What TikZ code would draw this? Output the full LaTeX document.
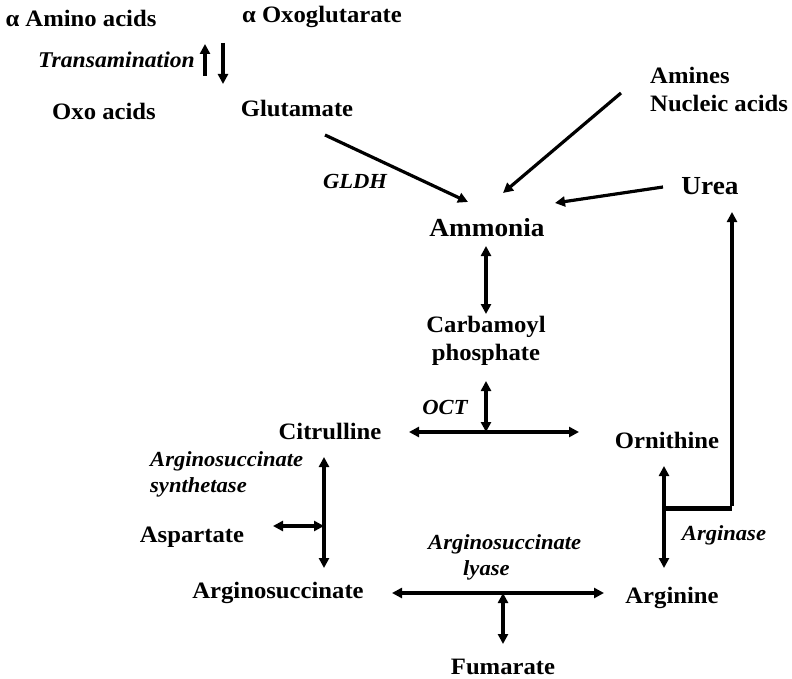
\documentclass[tikz,border=0pt]{standalone}
\usepackage{fontspec}
\setmainfont[FakeStretch=1.05]{Liberation Serif}
\usetikzlibrary{arrows.meta}
\tikzset{
  lbl/.style={font=\fontsize{23.5}{28}\selectfont\bfseries, inner sep=0pt},
  biglbl/.style={font=\fontsize{26}{30}\selectfont\bfseries, inner sep=0pt},
  enz/.style={font=\fontsize{21.5}{26}\selectfont\bfseries\itshape, inner sep=0pt},
  conn/.style={line width=3.2pt, -{Triangle[length=10pt,width=10pt]}},
  both/.style={line width=3.2pt, {Triangle[length=10pt,width=10pt]}-{Triangle[length=10pt,width=10pt]}},
}
\begin{document}
\begin{tikzpicture}[x=1pt,y=-1pt]
\useasboundingbox (0,0) rectangle (792,679);
% text nodes
\node[lbl] (aa) at (81,18) {α Amino acids};
\node[lbl] (og) at (322,17) {α Oxoglutarate};
\node[enz, anchor=east, font=\fontsize{22.5}{26}\selectfont\bfseries\itshape] (trans) at (195,60) {Transamination};
\node[lbl] (ox) at (104,111) {Oxo acids};
\node[lbl] (glu) at (297,108) {Glutamate};
\node[lbl, anchor=west, align=left] (amines) at (650,89) {Amines\\Nucleic acids};
\node[biglbl] (urea) at (710,186) {Urea};
\node[biglbl] (amm) at (487,228) {Ammonia};
\node[enz] (gldh) at (355,181) {GLDH};
\node[lbl, align=center] (carb) at (486,341) {Carbamoyl\\phosphate};
\node[enz] (oct) at (445,407) {OCT};
\node[lbl] (cit) at (330,431) {Citrulline};
\node[lbl] (orn) at (667,440) {Ornithine};
\node[enz, anchor=west, align=left] (synth) at (150,474) {Arginosuccinate\\synthetase};
\node[lbl] (asp) at (192,537) {Aspartate};
\node[lbl] (argsuc) at (278,593) {Arginosuccinate};
\node[enz, anchor=west, align=left] (lyase) at (428,557) {Arginosuccinate\\\hspace*{35pt}lyase};
\node[lbl] (arg) at (672,598) {Arginine};
\node[enz] (arginase) at (724,535) {Arginase};
\node[lbl] (fum) at (503,667) {Fumarate};
% connector end points
\coordinate (t1a) at (205,76); \coordinate (t1b) at (205,44);
\coordinate (t2a) at (223,43); \coordinate (t2b) at (223,84);
\coordinate (g1) at (325,135); \coordinate (g2) at (468,202);
\coordinate (n1) at (621,93); \coordinate (n2) at (503,193);
\coordinate (u1) at (663,187); \coordinate (u2) at (555,203);
\coordinate (ac1) at (486,246); \coordinate (ac2) at (486,314);
\coordinate (oc1) at (486,381); \coordinate (oc2) at (486,432);
\coordinate (h1) at (409,432); \coordinate (h2) at (579,432);
\coordinate (s1) at (324,457); \coordinate (s2) at (324,568);
\coordinate (sp1) at (273,526); \coordinate (sp2) at (324,526);
\coordinate (l1) at (392,593); \coordinate (l2) at (604,593);
\coordinate (f1) at (503,593); \coordinate (f2) at (503,644);
\coordinate (r1) at (664,466); \coordinate (r2) at (664,568);
\coordinate (j1) at (664,508); \coordinate (j2) at (732,508);
\coordinate (ut) at (732,212);
% connectors
\draw[conn] (t1a) -- (t1b);
\draw[conn] (t2a) -- (t2b);
\draw[conn] (g1) -- (g2);
\draw[conn] (n1) -- (n2);
\draw[conn] (u1) -- (u2);
\draw[both] (ac1) -- (ac2);
\draw[both] (oc1) -- (oc2);
\draw[both] (h1) -- (h2);
\draw[both] (s1) -- (s2);
\draw[both] (sp1) -- (sp2);
\draw[both] (l1) -- (l2);
\draw[both] (f1) -- (f2);
\draw[both] (r1) -- (r2);
\draw[line width=5pt] (j1) -- (j2);
\draw[conn] ([yshift=2.5pt]j2) -- (ut);
\end{tikzpicture}
\end{document}
